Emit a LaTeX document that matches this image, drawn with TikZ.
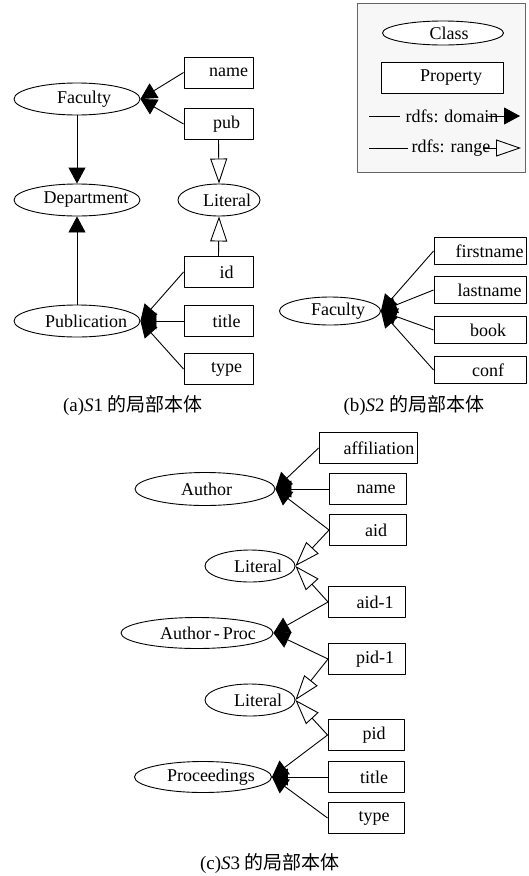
\documentclass[tikz,border=0pt]{standalone}
\usepackage{fontspec}
\setmainfont{Liberation Serif}
\newfontfamily\cjk{Noto Sans CJK SC}
\usetikzlibrary{shapes.geometric,arrows.meta}

\begin{document}
\begin{tikzpicture}[x=1pt,y=-1pt,line join=round,line width=0.9pt,
  font=\fontsize{18}{21}\selectfont,
  txs/.initial=16pt,
  shifted/.style={execute at begin node={\hbox to 0pt\bgroup\hss\hskip\pgfkeysvalueof{/tikz/txs}},
    execute at end node={\hss\egroup}},
  cls/.style={draw,ellipse,inner sep=0pt,minimum height=32pt,shifted},
  prop/.style={draw,rectangle,inner sep=0pt,minimum height=31pt,shifted},
  captext/.style={font=\fontsize{19}{22}\selectfont},
  dom/.style={-{Triangle[length=16pt,width=17pt]}},
  rng/.style={-{Triangle[open,length=25pt,width=17pt]}}]
  \useasboundingbox (0,0) rectangle (528,876);

  % (a) S1
  \node[cls,minimum width=126pt,txs=14pt] (facA) at (77,99) {Faculty};
  \node[cls,minimum width=126pt,txs=18pt] (deptA) at (77,200) {Department};
  \node[cls,minimum width=82pt] (litA) at (219,200) {Literal};
  \node[cls,minimum width=126pt,txs=18pt] (pubnA) at (77,321) {Publication};
  \node[prop,minimum width=69pt,txs=20pt] (nameA) at (218.5,72.5) {name};
  \node[prop,minimum width=69pt] (pubA) at (218.5,124) {pub};
  \node[prop,minimum width=69pt] (idA) at (218.5,272) {id};
  \node[prop,minimum width=69pt] (titleA) at (218.5,321) {title};
  \node[prop,minimum width=69pt] (typeA) at (218.5,369) {type};
  \draw[dom] (nameA.west) -- (facA.east);
  \draw[dom] (pubA.west) -- (facA.east);
  \draw[rng] (pubA.south) -- (litA.north);
  \draw[rng] (idA.north) -- (litA.south);
  \draw[dom] (facA.south) -- (deptA.north);
  \draw[dom] (pubnA.north) -- (deptA.south);
  \draw[dom] (idA.west) -- (pubnA.east);
  \draw[dom] (titleA.west) -- (pubnA.east);
  \draw[dom] (typeA.west) -- (pubnA.east);
  \node[captext] (capA) at (133,405) {(a)\textit{S}1 {\cjk 的局部本体}};

  % legend
  \draw[black!60,fill=black!3] (357,3) rectangle (525,172);
  \node[cls,fill=white,minimum width=121pt,minimum height=24pt,txs=12pt] (clsL) at (443,33) {Class};
  \node[prop,fill=white,minimum width=122pt,txs=18pt] (propL) at (442,78) {Property};
  \node[inner sep=0pt] (domL) at (452,116) {rdfs: domain};
  \node[inner sep=0pt] (rngL) at (451,148) {rdfs: range};
  \coordinate (d0) at (369,116);
  \coordinate (d1) at (400,116);
  \coordinate (d2) at (488,116);
  \coordinate (d3) at (520,116);
  \coordinate (r0) at (369,148);
  \coordinate (r1) at (408,148);
  \coordinate (r2) at (484,148);
  \coordinate (r3) at (521,148);
  \draw (d0) -- (d1);
  \draw[dom] (d2) -- (d3);
  \draw (r0) -- (r1);
  \draw[rng] (r2) -- (r3);

  % (b) S2
  \node[cls,minimum width=101pt,minimum height=28pt] (facB) at (330,311) {Faculty};
  \node[prop,minimum width=92pt,minimum height=27pt,txs=19pt] (firstB) at (480,251) {firstname};
  \node[prop,minimum width=92pt,minimum height=27pt,txs=19pt] (lastB) at (480,290) {lastname};
  \node[prop,minimum width=92pt,minimum height=27pt] (bookB) at (480,330) {book};
  \node[prop,minimum width=92pt,minimum height=27pt] (confB) at (480,370) {conf};
  \draw[dom] (firstB.west) -- (facB.east);
  \draw[dom] (lastB.west) -- (facB.east);
  \draw[dom] (bookB.west) -- (facB.east);
  \draw[dom] (confB.west) -- (facB.east);
  \node[captext] (capB) at (414,405) {(b)\textit{S}2 {\cjk 的局部本体}};

  % (c) S3
  \node[cls,minimum width=140pt,minimum height=33pt,txs=3pt] (authC) at (205,489) {Author};
  \node[cls,minimum width=90pt] (litC) at (250,566) {Literal};
  \node[cls,minimum width=152pt,minimum height=31pt,txs=22pt] (apC) at (197,633) {Author\thinspace-\thinspace Proc};
  \node[cls,minimum width=90pt] (litD) at (250,700) {Literal};
  \node[cls,minimum width=137pt,minimum height=31pt] (procC) at (203,777) {Proceedings};
  \node[prop,minimum width=98pt,txs=22pt] (affC) at (368,448) {affiliation};
  \node[prop,minimum width=77pt] (nameC) at (368,489) {name};
  \node[prop,minimum width=77pt] (aidC) at (368,530) {aid};
  \node[prop,minimum width=77pt] (aidiC) at (367,602) {aid-1};
  \node[prop,minimum width=77pt] (pidiC) at (367,659) {pid-1};
  \node[prop,minimum width=76pt] (pidC) at (366,735) {pid};
  \node[prop,minimum width=76pt] (titleC) at (366,777) {title};
  \node[prop,minimum width=76pt] (typeC) at (366,818) {type};
  \draw[dom] (affC.west) -- (authC.east);
  \draw[dom] (nameC.west) -- (authC.east);
  \draw[dom] (aidC.west) -- (authC.east);
  \draw[rng] (aidC.west) -- (litC.east);
  \draw[rng] (aidiC.west) -- (litC.east);
  \draw[dom] (aidiC.west) -- (apC.east);
  \draw[dom] (pidiC.west) -- (apC.east);
  \draw[rng] (pidiC.west) -- (litD.east);
  \draw[rng] (pidC.west) -- (litD.east);
  \draw[dom] (pidC.west) -- (procC.east);
  \draw[dom] (titleC.west) -- (procC.east);
  \draw[dom] (typeC.west) -- (procC.east);
  \node[captext] (capC) at (270,863) {(c)\textit{S}3 {\cjk 的局部本体}};
\end{tikzpicture}
\end{document}
